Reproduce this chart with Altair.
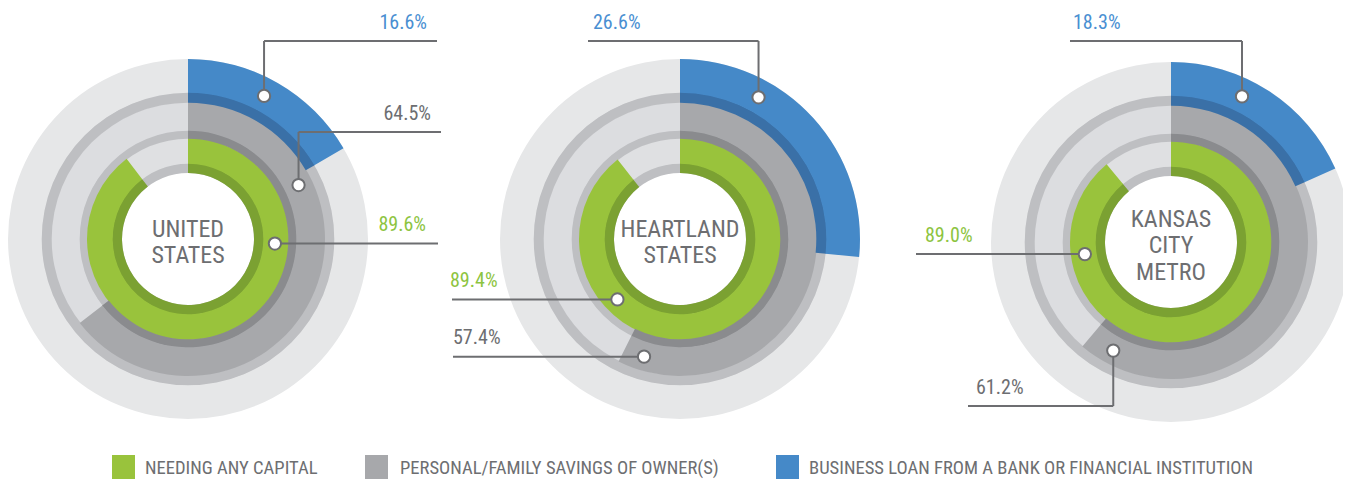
import math
import altair as alt
import pandas as pd

# ---------------- data ----------------
regions = ["UNITED STATES", "HEARTLAND STATES", "KANSAS CITY METRO"]
center_lines = [["UNITED", "STATES"], ["HEARTLAND", "STATES"], ["KANSAS", "CITY", "METRO"]]
needing = [89.6, 89.4, 89.0]
savings = [64.5, 57.4, 61.2]
loans = [16.6, 26.6, 18.3]
series_keys = ["need", "sav", "loan"]
series_names = [
    "NEEDING ANY CAPITAL",
    "PERSONAL/FAMILY SAVINGS OF OWNER(S)",
    "BUSINESS LOAN FROM A BANK OR FINANCIAL INSTITUTION",
]

# ---------------- layout / style ----------------
FONT = "Roboto Condensed, Liberation Sans Narrow, Roboto"
GRAY_TXT = "#6d6e71"
BAND = "#bebfc2"
centers = [(188, 239), (680, 239), (1171, 242)]
styles = {
    "need": dict(dark=(66, 76), main=(76, 101), c_dark="#7ba132", c_main="#99c33c",
                 t_main="#dfe0e2", label="#8dc43f", mr=87),
    "sav": dict(dark=(101, 109), main=(109, 137), c_dark="#8a8b8e", c_main="#a7a8ab",
                t_main="#dcdde0", label=GRAY_TXT, mr=123),
    "loan": dict(dark=(137, 147), main=(147, 180), c_dark="#3a70a7", c_main="#4589c8",
                 t_main="#e6e7e8", label="#4a8fd2", mr=162),
}
# marker angle (deg, clockwise from top) per chart
marker_angle = {"need": [93, 226, 262], "sav": [64, 197, 208], "loan": [28, 29, 26]}
# leader route: (kind, elbow_y, end_x, align, text_x)
routes = {
    (0, "loan"): ("elbow", 41, 437, "right", 427),
    (0, "sav"): ("elbow", 132, 441, "right", 431),
    (0, "need"): ("flat", None, 438, "right", 426),
    (1, "loan"): ("elbow", 41, 588, "left", 593),
    (1, "need"): ("flat", None, 452, "left", 450),
    (1, "sav"): ("flat", None, 453, "left", 453),
    (2, "loan"): ("elbow", 41, 1070, "left", 1073),
    (2, "need"): ("flat", None, 916, "left", 925),
    (2, "sav"): ("elbow", 406, 968, "left", 976),
}
values = {"need": needing, "sav": savings, "loan": loans}
LINE_H = 26.5

track_rows, val_rows, rule_rows, marker_rows, label_rows, center_rows = [], [], [], [], [], []
for i, (cx, cy) in enumerate(centers):
    for k in series_keys:
        st = styles[k]
        v = values[k][i]
        ov = 0 if k == "need" else 0.7
        track_rows.append(dict(cx=cx, cy=cy, t0=0, t1=100, r0=st["dark"][0] - ov, r1=st["dark"][1], fill=BAND))
        track_rows.append(dict(cx=cx, cy=cy, t0=0, t1=100, r0=st["main"][0] - 0.7, r1=st["main"][1], fill=st["t_main"]))
        val_rows.append(dict(cx=cx, cy=cy, t0=0, t1=v, r0=st["dark"][0] - ov, r1=st["dark"][1], fill=st["c_dark"]))
        val_rows.append(dict(cx=cx, cy=cy, t0=0, t1=v, r0=st["main"][0] - 0.7, r1=st["main"][1], fill=st["c_main"]))
        a = math.radians(marker_angle[k][i])
        mx = cx + st["mr"] * math.sin(a)
        my = cy - st["mr"] * math.cos(a)
        kind, ey, endx, align, tx = routes[(i, k)]
        if kind == "elbow":
            rule_rows.append(dict(x=mx, y=my, x2=mx, y2=ey))
            rule_rows.append(dict(x=mx, y=ey, x2=endx, y2=ey))
            ly = ey
        else:
            rule_rows.append(dict(x=mx, y=my, x2=endx, y2=my))
            ly = my
        marker_rows.append(dict(x=mx, y=my))
        label_rows.append(dict(x=tx, y=ly - 12.5, text=f"{v:.1f}%", color=st["label"], align=align))
    n = len(center_lines[i])
    center_rows.append(dict(x=cx, y=cy + 4 - (n - 1) * LINE_H / 2, text=center_lines[i]))

legend_rows = []
leg_sq_x = [112, 365, 776]
leg_tx = [145, 400, 809]
leg_cols = [styles["need"]["c_main"], styles["sav"]["c_main"], styles["loan"]["c_main"]]
for j, name in enumerate(series_names):
    legend_rows.append(dict(x=leg_sq_x[j], x2=leg_sq_x[j] + 23, y=455, y2=479, tx=leg_tx[j], ty=473.5,
                            text=name, fill=leg_cols[j]))

W, H = 1335, 471
xs = alt.Scale(domain=[8, 8 + W], range=[0, W], nice=False, zero=False)
ys = alt.Scale(domain=[8, 8 + H], range=[0, H], nice=False, zero=False)
ths = alt.Scale(domain=[0, 100], range=[0, 2 * math.pi])


def arcs(rows):
    return alt.Chart(pd.DataFrame(rows)).mark_arc(strokeWidth=0).encode(
        x=alt.X("cx:Q", scale=xs, axis=None),
        y=alt.Y("cy:Q", scale=ys, axis=None),
        theta=alt.Theta("t0:Q", scale=ths, stack=None),
        theta2="t1:Q",
        radius=alt.Radius("r0:Q", scale=None),
        radius2="r1:Q",
        color=alt.Color("fill:N", scale=None, legend=None),
    )


tracks = arcs(track_rows)
vals = arcs(val_rows)

rules = alt.Chart(pd.DataFrame(rule_rows)).mark_rule(color=GRAY_TXT, strokeWidth=2).encode(
    x=alt.X("x:Q", scale=xs, axis=None), y=alt.Y("y:Q", scale=ys, axis=None),
    x2="x2:Q", y2="y2:Q")

markers = alt.Chart(pd.DataFrame(marker_rows)).mark_circle(
    fill="white", stroke=GRAY_TXT, strokeWidth=2, size=150, opacity=1).encode(
    x=alt.X("x:Q", scale=xs, axis=None), y=alt.Y("y:Q", scale=ys, axis=None))

lab_df = pd.DataFrame(label_rows)


def labels(al):
    return alt.Chart(lab_df).transform_filter(alt.datum.align == al).mark_text(
        align=al, baseline="alphabetic", font=FONT, fontSize=20).encode(
        x=alt.X("x:Q", scale=xs, axis=None), y=alt.Y("y:Q", scale=ys, axis=None),
        text="text:N", color=alt.Color("color:N", scale=None, legend=None))


centers_txt = alt.Chart(pd.DataFrame(center_rows)).mark_text(
    align="center", baseline="middle", font=FONT, fontSize=24, lineHeight=LINE_H, color=GRAY_TXT).encode(
    x=alt.X("x:Q", scale=xs, axis=None), y=alt.Y("y:Q", scale=ys, axis=None), text="text")

leg_df = pd.DataFrame(legend_rows)
leg_sq = alt.Chart(leg_df).mark_rect().encode(
    x=alt.X("x:Q", scale=xs, axis=None), x2="x2:Q",
    y=alt.Y("y:Q", scale=ys, axis=None), y2="y2:Q",
    color=alt.Color("fill:N", scale=None, legend=None))
leg_txt = alt.Chart(leg_df).mark_text(
    align="left", baseline="alphabetic", font=FONT, fontSize=18.6, color=GRAY_TXT).encode(
    x=alt.X("tx:Q", scale=xs, axis=None), y=alt.Y("ty:Q", scale=ys, axis=None), text="text:N")

chart = alt.layer(
    tracks, vals, rules, markers, labels("right"), labels("left"), centers_txt, leg_sq, leg_txt
).properties(
    width=W, height=H, padding=0, autosize=alt.AutoSizeParams(type="none"), background="white"
).configure_view(stroke=None)

chart.save("out.html", embed_options={"renderer": "svg", "actions": False})
